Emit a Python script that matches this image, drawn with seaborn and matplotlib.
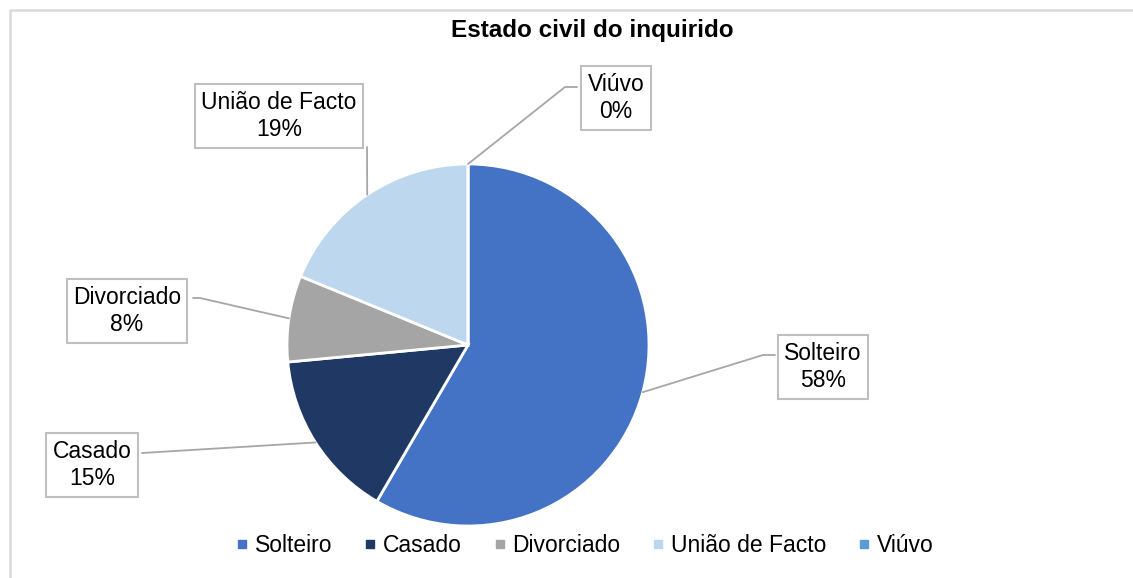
import numpy as np
import matplotlib
matplotlib.use("Agg")
import matplotlib.pyplot as plt
from matplotlib.lines import Line2D
import seaborn as sns

# data
categories = ["Solteiro", "Casado", "Divorciado", "União de Facto", "Viúvo"]
percentages = [58.4, 15.1, 7.7, 18.8, 0.0]
colors = ["#4472C4", "#203864", "#A5A5A5", "#BDD7EE", "#5B9BD5"]
title = "Estado civil do inquirido"

W, H = 1133, 578
sns.set_theme(style="white")
plt.rcParams["font.family"] = ["Liberation Sans", "DejaVu Sans"]

fig = plt.figure(figsize=(W / 100, H / 100), dpi=100)
ax = fig.add_axes([0, 0, 1, 1])


def px(x, y):
    # pixel coords (top-left origin) -> data coords
    return x, H - y


cx, cy = px(468, 345)
r = 181
wedges, _ = ax.pie(percentages, colors=sns.color_palette(colors), startangle=90,
                   counterclock=False, radius=r, center=(cx, cy),
                   wedgeprops=dict(edgecolor="white", linewidth=2))
ax.set_xlim(0, W)
ax.set_ylim(0, H)
ax.set_aspect("equal")
ax.axis("off")

# chart area frame (only top and left edges show in the crop)
ax.plot([10, 10, W + 5], [-5, H - 10, H - 10], color="#D9D9D9",
        linewidth=1.8, clip_on=False, zorder=0)

fig.text(592 / W, 1 - 30 / H, title, ha="center", va="center",
         fontsize=17.5, fontweight="bold", color="#000000")

# label boxes: center, anchor on box, optional elbow
layout = {
    "Solteiro": dict(c=(823, 367), a=(775, 355), e=(763, 355)),
    "Casado": dict(c=(92, 465), a=(142, 453), e=None),
    "Divorciado": dict(c=(127, 311), a=(193, 298), e=(200, 298)),
    "União de Facto": dict(c=(279, 116), a=(367, 147), e=None),
    "Viúvo": dict(c=(616, 98), a=(577, 87), e=(565, 87)),
}

total = sum(percentages)
cum = 0.0
for name, val in zip(categories, percentages):
    mid = cum + val / 2
    cum += val
    ang = np.deg2rad(90 - 360 * mid / total)
    sx, sy = cx + r * np.cos(ang), cy + r * np.sin(ang)
    L = layout[name]
    pts = [(sx, sy)]
    if L["e"] is not None:
        pts.append(px(*L["e"]))
    pts.append(px(*L["a"]))
    xs, ys = zip(*pts)
    ax.plot(xs, ys, color="#A6A6A6", linewidth=1.3, zorder=1, clip_on=False)
    tx, ty = px(*L["c"])
    ax.text(tx, ty, f"{name}\n{val:.0f}%", ha="center", va="center",
            fontsize=16.5, color="#000000", linespacing=1.25, zorder=5,
            bbox=dict(boxstyle="square,pad=0.28", facecolor="white",
                      edgecolor="#BFBFBF", linewidth=1.5))

handles = [Line2D([], [], marker="s", linestyle="", markersize=6,
                  markerfacecolor=c, markeredgecolor=c) for c in colors]
fig.legend(handles, categories, loc="center", ncol=5, frameon=False,
           bbox_to_anchor=(585 / W, 1 - 546 / H), fontsize=16.5,
           labelcolor="#000000",
           handlelength=0.5, handletextpad=0.3, columnspacing=1.4)

fig.savefig("out.png", dpi=100)
